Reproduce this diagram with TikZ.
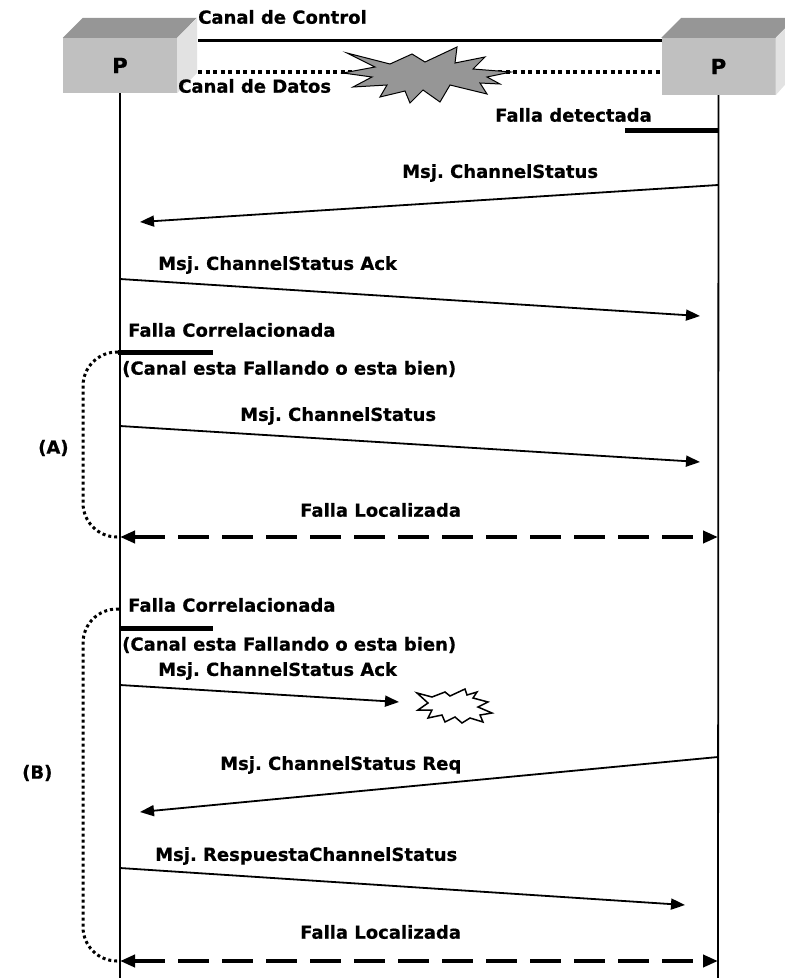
\documentclass[tikz,border=0pt]{standalone}
\usepackage{fontspec}
\newfontfamily\lblfont{DejaVu Sans}[BoldFeatures={FakeBold=0.6}]
\usetikzlibrary{arrows.meta,positioning}
\definecolor{boxfront}{RGB}{192,192,192}
\definecolor{boxtop}{RGB}{150,150,150}
\definecolor{boxside}{RGB}{226,226,226}
\definecolor{starfill}{RGB}{150,150,150}
\tikzset{
  lbl/.style={font=\lblfont\bfseries\fontsize{18}{21}\selectfont\frenchspacing,
    inner sep=0pt, anchor=west},
  pbox/.style={fill=boxfront, minimum width=114pt, minimum height=55pt, inner sep=0pt,
    font=\lblfont\bfseries\fontsize{21}{24}\selectfont},
  lifeline/.style={line width=1.8pt},
  msg/.style={line width=1.8pt, -{Triangle[length=14pt,width=11pt]}},
  localiza/.style={line width=4pt, dash pattern=on 31pt off 13pt,
    {Triangle[length=15pt,width=12pt]}-{Triangle[length=15pt,width=12pt]}},
  falla/.style={line width=5pt},
  bracket/.style={line width=3pt, dash pattern=on 3pt off 3pt, rounded corners=34pt},
}
\begin{document}
\begin{tikzpicture}[x=1pt,y=-1pt]
  \useasboundingbox (0,0) rectangle (785,978);

  % nodos P
  \node[pbox] (pl) at (120,65.5) {P};
  \node[pbox, minimum height=57pt] (pr) at (718.5,66.5) {P};
  \foreach \b in {pl,pr} {
    \fill[boxtop] (\b.north west) -- ++(20,-20) -- ++(114,0) -- (\b.north east) -- cycle;
    \fill[boxside] (\b.north east) -- ++(20,-20) -- ++(0,55) -- (\b.south east) -- cycle;
  }

  % lineas de vida
  \coordinate (lend) at (120,978);
  \coordinate (rend) at (718,978);
  \draw[lifeline] (pl.south) -- (lend);
  \draw[lifeline] (pr.south) -- (rend);

  % canales
  \coordinate (cc1) at (198,40);
  \coordinate (cc2) at (662,40);
  \draw[line width=3pt] (cc1) -- (cc2);
  \node[lbl] (ctrl) at (198,17) {Canal de Control};
  \coordinate (cd1) at (198,72);
  \coordinate (cd2) at (662,72);
  \draw[line width=4pt, dash pattern=on 4pt off 3.5pt] (cd1) -- (cd2);
  \node[lbl] (datos) at (178,86) {Canal de Datos};
  \filldraw[fill=starfill, draw=black, line width=1pt]
    (347,53) -- (390,64) -- (412,54) -- (425,62) -- (457,47) -- (455,63)
    -- (485,57) -- (473,69) -- (511,72) -- (487,77) -- (500,84) -- (480,83)
    -- (487,94) -- (450,85) -- (440,102) -- (423,90) -- (410,103) -- (405,91)
    -- (380,97) -- (387,85) -- (353,87) -- (372,77) -- (343,73) -- (375,67) -- cycle;

  % falla detectada
  \node[lbl] (fdet) at (495,115) {Falla detectada};
  \coordinate (fd1) at (625,130);
  \coordinate (fd2) at (719,130);
  \draw[falla] (fd1) -- (fd2);

  % mensajes
  \coordinate (r1) at (718,185);
  \coordinate (l1) at (140,222);
  \draw[msg] (r1) -- (l1);
  \node[lbl] (m1) at (402,173) {Msj. ChannelStatus};

  \coordinate (l2) at (120,279);
  \coordinate (r2) at (700,316);
  \draw[msg] (l2) -- (r2);
  \node[lbl] (m2) at (158,265) {Msj. ChannelStatus Ack};

  % (A)
  \node[lbl] (fca) at (128,330) {Falla Correlacionada};
  \coordinate (fa1) at (118,352);
  \coordinate (fa2) at (213,352);
  \draw[falla] (fa1) -- (fa2);
  \node[lbl] (esta) at (122,369) {(Canal esta Fallando o esta bien)};

  \coordinate (l3) at (120,426);
  \coordinate (r3) at (700,462);
  \draw[msg] (l3) -- (r3);
  \node[lbl] (m3) at (240,416) {Msj. ChannelStatus};

  \node[lbl] (fla) at (300,510) {Falla Localizada};
  \coordinate (la) at (120,537);
  \coordinate (ra) at (718,537);
  \draw[localiza] (la) -- (ra);
  \draw[bracket] (fa1) -- ++(-35,0) |- (la);
  \node[lbl] (A) at (38,448) {(A)};

  % (B)
  \node[lbl] (fcb) at (128,605) {Falla Correlacionada};
  \coordinate (fb0) at (119,609);
  \coordinate (fb1) at (120,628);
  \coordinate (fb2) at (213,628);
  \draw[falla] (fb1) -- (fb2);
  \node[lbl] (estb) at (122,645) {(Canal esta Fallando o esta bien)};

  \coordinate (l4) at (120,685);
  \coordinate (x4) at (399,702);
  \draw[msg] (l4) -- (x4);
  \node[lbl] (m4) at (158,671) {Msj. ChannelStatus Ack};
  \draw[line width=1.5pt, fill=white]
    (417,693) -- (432,697) -- (445,692) -- (450,696) -- (465,689) -- (467,695)
    -- (477,692) -- (473,698) -- (488,702) -- (478,707) -- (492,713) -- (480,715)
    -- (483,722) -- (470,718) -- (462,723) -- (455,717) -- (445,722) -- (442,715)
    -- (428,718) -- (432,710) -- (418,710) -- (428,703) -- cycle;

  \coordinate (r5) at (718,757);
  \coordinate (l5) at (140,812);
  \draw[msg] (r5) -- (l5);
  \node[lbl] (m5) at (220,765) {Msj. ChannelStatus Req};

  \coordinate (l6) at (120,868);
  \coordinate (r6) at (685,905);
  \draw[msg] (l6) -- (r6);
  \node[lbl] (m6) at (155,856) {Msj. RespuestaChannelStatus};

  \node[lbl] (flb) at (300,932) {Falla Localizada};
  \coordinate (lb) at (120,961);
  \coordinate (rb) at (718,961);
  \draw[localiza] (lb) -- (rb);
  \draw[bracket] (fb0) -- ++(-36,0) |- (lb);
  \node[lbl] (B) at (22,773) {(B)};
\end{tikzpicture}
\end{document}
